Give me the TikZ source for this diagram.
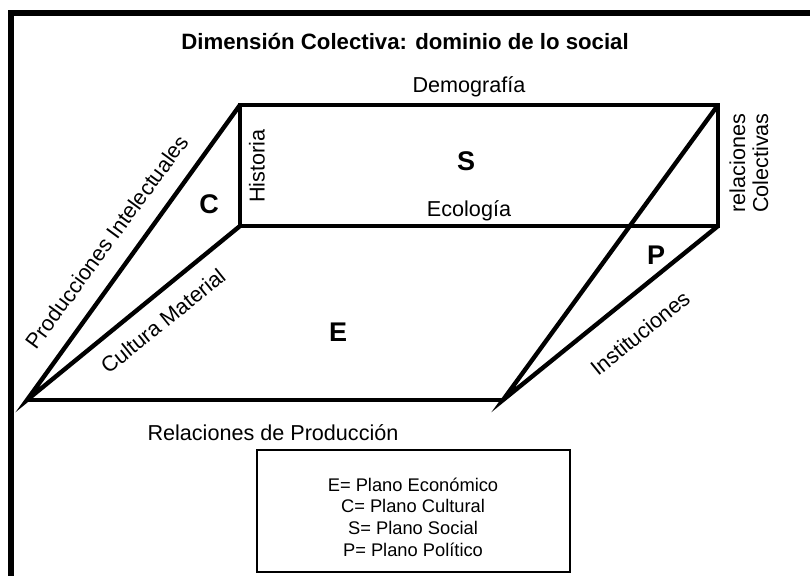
\documentclass[tikz,border=0pt]{standalone}
\usepackage{fontspec}
\setmainfont{Liberation Sans}
\begin{document}
\begin{tikzpicture}[x=1pt,y=-1pt,
  frame/.style={line width=5.5pt},
  plane/.style={line width=4.4pt, line join=miter},
  lbl/.style={font=\fontsize{21.6}{25}\selectfont, inner sep=0pt},
  letter/.style={font=\fontsize{27}{30}\selectfont\bfseries, inner sep=0pt},
  legend/.style={font=\fontsize{18.3}{21.7}\selectfont, align=center}]
\useasboundingbox (0,0) rectangle (810,575);
\clip (0,0) rectangle (810,575);
% outer frame
\draw[frame] (11,13) rectangle (840,620);
% title
\node[font=\fontsize{22.2}{26}\selectfont\bfseries] (title) at (405,41) {Dimensión Colectiva: dominio de lo social};
% corner coordinates
\coordinate (TL) at (240,105);
\coordinate (TR) at (718,105);
\coordinate (BL) at (240,226);
\coordinate (BR) at (718,226);
\coordinate (A) at (27,400);
\coordinate (B) at (503,400);
% planes
\draw[plane] (TL) -- (TR) -- (BR) -- (BL) -- cycle;
\draw[plane] (TL) -- (A) -- (BL);
\draw[plane] (A) -- (B);
\draw[plane] (TR) -- (B) -- (BR);
% edge labels
\node[lbl] (demo) at (469,87) {Demografía};
\node[lbl] (eco) at (469,211) {Ecología};
\node[lbl, rotate=90] (hist) at (257,166) {Historia};
\node[lbl, rotate=90, align=center, font=\fontsize{21.6}{23}\selectfont] (relc) at (749,163) {relaciones\\Colectivas};
\node[lbl, rotate=53.8] (prod) at (107,242) {Producciones Intelectuales};
\node[lbl, rotate=38.85] (cult) at (163,321) {Cultura Material};
\node[lbl, rotate=39] (inst) at (640,333) {Instituciones};
\node[lbl] (relp) at (273,433) {Relaciones de Producción};
% plane letters
\node[letter] (S) at (466,161) {S};
\node[letter] (C) at (209,204) {C};
\node[letter] (E) at (338,332) {E};
\node[letter] (P) at (656,255) {P};
% legend
\draw[line width=1.1pt] (257,450) rectangle (570,572);
\node[legend] (leg) at (413,517) {E= Plano Económico\\C= Plano Cultural\\S= Plano Social\\P= Plano Político};
\end{tikzpicture}
\end{document}
